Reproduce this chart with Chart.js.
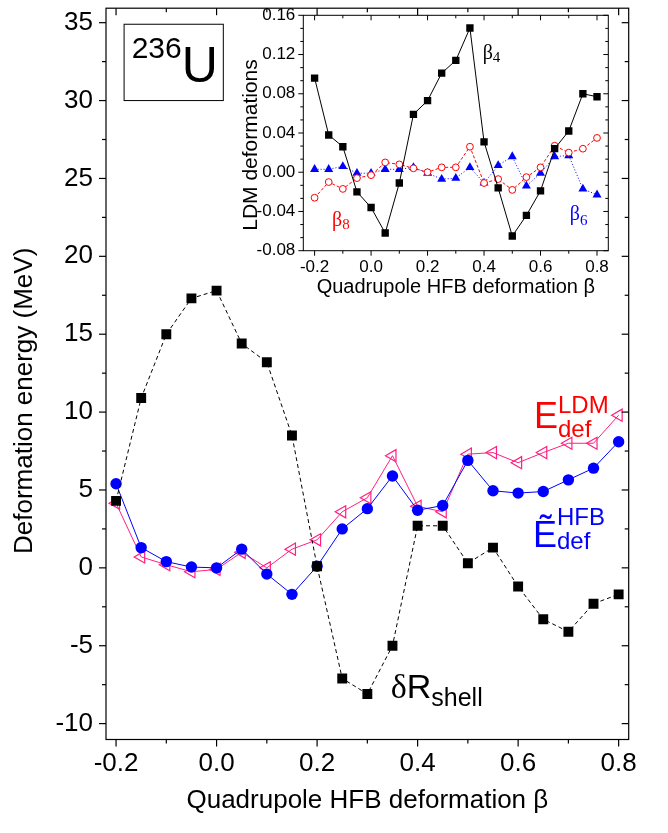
<!DOCTYPE html>
<html>
<head>
<meta charset="utf-8">
<script src="https://cdn.jsdelivr.net/npm/chart.js@4.4.0/dist/chart.umd.min.js"></script>
<style>
  html, body { margin: 0; padding: 0; background: #fff; }
  #wrap { position: relative; width: 668px; height: 833px; }
  #main { position: absolute; left: 0; top: 0; }
  #inset { position: absolute; left: 230px; top: 0; }
</style>
</head>
<body>
<div id="wrap">
  <canvas id="main" width="668" height="833"></canvas>
  <canvas id="inset" width="390" height="305"></canvas>
</div>
<script>
// quadrupole HFB deformation (x for every series)
var beta = [-0.2, -0.15, -0.1, -0.05, 0, 0.05, 0.1, 0.15, 0.2, 0.25, 0.3,
            0.35, 0.4, 0.45, 0.5, 0.55, 0.6, 0.65, 0.7, 0.75, 0.8];

// main panel, MeV
var dRshell = [4.3, 10.9, 15.0, 17.3, 17.8, 14.4, 13.2, 8.5, 0.1, -7.1, -8.1,
               -5.0, 2.7, 2.7, 0.3, 1.3, -1.2, -3.3, -4.1, -2.3, -1.7];
var eHFB = [5.4, 1.3, 0.4, 0.05, 0.0, 1.2, -0.4, -1.7, 0.1, 2.5, 3.8,
            5.9, 3.7, 4.0, 6.9, 4.95, 4.8, 4.9, 5.65, 6.4, 8.1];
var eLDM = [4.15, 0.7, 0.2, -0.25, -0.1, 1.0, 0.0, 1.2, 1.8, 3.6, 4.5,
            7.2, 3.95, 3.6, 7.3, 7.4, 6.75, 7.4, 8.0, 8.0, 9.8];

// inset, LDM deformations
var beta4 = [0.096, 0.038, 0.026, -0.020, -0.036, -0.062, -0.011, 0.059, 0.073, 0.101, 0.114,
             0.147, 0.031, -0.016, -0.065, -0.044, -0.019, 0.024, 0.042, 0.080, 0.077];
var beta6 = [0.003, 0.003, 0.006, -0.001, -0.001, 0.003, 0.003, 0.005, -0.001, -0.007, -0.006,
             0.005, -0.011, 0.007, 0.016, -0.014, -0.001, 0.016, 0.017, -0.017, -0.023];
var beta8 = [-0.026, -0.010, -0.017, -0.006, -0.003, 0.010, 0.008, 0.004, 0.000, 0.005, 0.005,
             0.026, -0.011, -0.007, -0.018, -0.005, 0.005, 0.027, 0.020, 0.024, 0.035];

// tick labels
var mainXTicks = [-0.2, 0, 0.2, 0.4, 0.6, 0.8];
var mainYTicks = [-10, -5, 0, 5, 10, 15, 20, 25, 30, 35];
var insetXTicks = [-0.2, 0, 0.2, 0.4, 0.6, 0.8];
var insetYTicks = [-0.08, -0.04, 0, 0.04, 0.08, 0.12, 0.16];

var SANS = '"Liberation Sans", Arial, sans-serif';
var SERIF = '"Liberation Serif", "Times New Roman", serif';

function pts(ys) {
  return beta.map(function (b, i) { return { x: b, y: ys[i] }; });
}

// minor ticks: n between each pair of majors, plus one interval past the ends
function minors(major, n, lo, hi) {
  var out = [], gap = major[1] - major[0], step = gap / (n + 1);
  for (var v = major[0] - gap; v <= major[major.length - 1] + gap + 1e-9; v += step) {
    var isMajor = major.some(function (m) { return Math.abs(m - v) < step / 10; });
    if (!isMajor && v >= lo && v <= hi) out.push(v);
  }
  return out;
}

// box frame + major/minor ticks (outward on bottom/left, inward on top/right)
// and the rotated y title, which sits a little below the axis middle
var framePlugin = {
  id: 'frame',
  afterDraw: function (chart, args, o) {
    var ctx = chart.ctx, a = chart.chartArea, xs = chart.scales.x, ys = chart.scales.y;
    ctx.save();
    ctx.strokeStyle = '#000';
    ctx.lineWidth = o.lineWidth;
    ctx.strokeRect(a.left, a.top, a.right - a.left, a.bottom - a.top);
    function seg(x1, y1, x2, y2) { ctx.beginPath(); ctx.moveTo(x1, y1); ctx.lineTo(x2, y2); ctx.stroke(); }
    function xt(v, len) {
      var p = xs.getPixelForValue(v);
      seg(p, a.bottom, p, a.bottom + len);
      seg(p, a.top, p, a.top + len);
    }
    function yt(v, len) {
      var p = ys.getPixelForValue(v);
      seg(a.left, p, a.left - len, p);
      seg(a.right, p, a.right - len, p);
    }
    o.xMajor.forEach(function (v) { xt(v, o.majorLen); });
    minors(o.xMajor, o.xMinorN, xs.min, xs.max).forEach(function (v) { xt(v, o.minorLen); });
    o.yMajor.forEach(function (v) { yt(v, o.majorLen); });
    minors(o.yMajor, o.yMinorN, ys.min, ys.max).forEach(function (v) { yt(v, o.minorLen); });

    ctx.translate(o.yTitleX, (a.top + a.bottom) / 2 + o.yTitleShift);
    ctx.rotate(-Math.PI / 2);
    ctx.font = o.yTitleSize + 'px ' + SANS;
    ctx.fillStyle = '#000';
    ctx.textAlign = 'center';
    ctx.textBaseline = 'middle';
    ctx.fillText(o.yTitle, 0, 0);
    ctx.restore();
  }
};

// write a run of text pieces from a data-space anchor (left, baseline)
// piece: [text, font, color, dy, noAdvance]
function runs(chart, xv, yv, pieces) {
  var ctx = chart.ctx;
  var x = chart.scales.x.getPixelForValue(xv), y = chart.scales.y.getPixelForValue(yv);
  ctx.save();
  ctx.textBaseline = 'alphabetic';
  ctx.textAlign = 'left';
  pieces.forEach(function (p) {
    ctx.font = p[1];
    ctx.fillStyle = p[2];
    ctx.fillText(p[0], x, y + (p[3] || 0));
    if (!p[4]) x += ctx.measureText(p[0]).width;
  });
  ctx.restore();
}

var mainNotes = {
  id: 'mainNotes',
  afterDraw: function (chart) {
    var ctx = chart.ctx, xs = chart.scales.x, ys = chart.scales.y;
    // nucleus box
    var x0 = xs.getPixelForValue(-0.184), x1 = xs.getPixelForValue(0.0134);
    var y0 = ys.getPixelForValue(34.9), y1 = ys.getPixelForValue(30.0);
    ctx.save();
    ctx.strokeStyle = '#000';
    ctx.lineWidth = 1;
    ctx.strokeRect(x0, y0, x1 - x0, y1 - y0);
    ctx.restore();
    runs(chart, -0.169, 31.18, [
      ['236', '30px ' + SANS, '#000', -24.5],
      ['U', '50px ' + SANS, '#000', 0]
    ]);
    runs(chart, 0.3465, -8.33, [
      ['\u03b4', '34px ' + SERIF, '#000', 0],
      ['R', '34px ' + SANS, '#000', 0],
      ['shell', '25px ' + SANS, '#000', 8]
    ]);
    runs(chart, 0.6315, 8.98, [
      ['E', '36px ' + SANS, '#ff0000', 0],
      ['LDM', '24px ' + SANS, '#ff0000', -15, true],
      ['def', '24px ' + SANS, '#ff0000', 9]
    ]);
    runs(chart, 0.6295, 1.34, [
      ['\u1ebc', '36px ' + SANS, '#0000ff', 0],
      ['HFB', '24px ' + SANS, '#0000ff', -22, true],
      ['def', '24px ' + SANS, '#0000ff', 2]
    ]);
  }
};

var insetNotes = {
  id: 'insetNotes',
  afterDraw: function (chart) {
    runs(chart, 0.395, 0.1155, [
      ['\u03b2', '20px ' + SERIF, '#000', 0],
      ['4', '15px ' + SERIF, '#000', 3]
    ]);
    runs(chart, -0.1385, -0.0548, [
      ['\u03b2', '20px ' + SERIF, '#ff0000', 0],
      ['8', '15px ' + SERIF, '#ff0000', 3]
    ]);
    runs(chart, 0.7035, -0.0487, [
      ['\u03b2', '20px ' + SERIF, '#0000ff', 0],
      ['6', '15px ' + SERIF, '#0000ff', 5]
    ]);
  }
};

function fixedTicks(list) {
  return function (s) { s.ticks = list.map(function (v) { return { value: v }; }); };
}

new Chart(document.getElementById('main'), {
  type: 'line',
  data: {
    datasets: [
      {
        label: 'dR shell',
        data: pts(dRshell),
        borderColor: '#000',
        borderWidth: 1,
        borderDash: [4, 3],
        pointStyle: 'rect',
        pointRadius: 7,
        pointBackgroundColor: '#000',
        pointBorderColor: '#000',
        pointBorderWidth: 0
      },
      {
        label: 'E HFB',
        data: pts(eHFB),
        borderColor: '#0000ff',
        borderWidth: 1,
        pointStyle: 'circle',
        pointRadius: 5.7,
        pointBackgroundColor: '#0000ff',
        pointBorderColor: '#0000ff',
        pointBorderWidth: 0
      },
      {
        label: 'E LDM',
        data: pts(eLDM),
        borderColor: '#ff2080',
        borderWidth: 1,
        pointStyle: 'triangle',
        pointRotation: -90,
        pointRadius: 7,
        pointBackgroundColor: 'rgba(255,255,255,0)',
        pointBorderColor: '#ff2080',
        pointBorderWidth: 1.2
      }
    ]
  },
  options: {
    responsive: false,
    animation: false,
    layout: { padding: { top: 1, right: 39.3, bottom: 0, left: 0 } },
    plugins: {
      legend: { display: false },
      tooltip: { enabled: false },
      frame: { lineWidth: 1.2, majorLen: 7, minorLen: 4,
               xMajor: mainXTicks, xMinorN: 1, yMajor: mainYTicks, yMinorN: 1,
               yTitle: 'Deformation energy (MeV)', yTitleSize: 26, yTitleX: 25, yTitleShift: 27 }
    },
    scales: {
      x: {
        type: 'linear',
        min: -0.22,
        max: 0.82,
        afterBuildTicks: fixedTicks(mainXTicks),
        afterFit: function (s) { s.height = 93.5; s.paddingLeft = 0; s.paddingRight = 0; },
        grid: { display: false, drawTicks: false },
        border: { display: false },
        ticks: {
          autoSkip: false, maxRotation: 0, padding: 9, color: '#000',
          font: { family: SANS, size: 26 },
          callback: function (v) { return v.toFixed(1); }
        },
        title: {
          display: true, text: 'Quadrupole HFB deformation \u03b2', color: '#000',
          font: { family: SANS, size: 26 }, padding: { top: 0, bottom: 17 }
        }
      },
      y: {
        type: 'linear',
        min: -11.02,
        max: 35.93,
        afterBuildTicks: fixedTicks(mainYTicks),
        afterFit: function (s) { s.width = 106; s.paddingTop = 0; s.paddingBottom = 0; },
        grid: { display: false, drawTicks: false },
        border: { display: false },
        ticks: {
          autoSkip: false, padding: 13, color: '#000',
          font: { family: SANS, size: 26 },
          callback: function (v) { return String(v); }
        }
      }
    }
  },
  plugins: [framePlugin, mainNotes]
});

new Chart(document.getElementById('inset'), {
  type: 'line',
  data: {
    datasets: [
      {
        label: 'beta4',
        data: pts(beta4),
        borderColor: '#000',
        borderWidth: 1,
        pointStyle: 'rect',
        pointRadius: 5.2,
        pointBackgroundColor: '#000',
        pointBorderColor: '#000',
        pointBorderWidth: 0
      },
      {
        label: 'beta8',
        data: pts(beta8),
        borderColor: '#ff0000',
        borderWidth: 1,
        borderDash: [3, 2],
        pointStyle: 'circle',
        pointRadius: 3.4,
        pointBackgroundColor: '#ffffff',
        pointBorderColor: '#ff0000',
        pointBorderWidth: 1
      },
      {
        label: 'beta6',
        data: pts(beta6),
        borderColor: '#0000ff',
        borderWidth: 1,
        borderDash: [1, 2],
        pointStyle: 'triangle',
        pointRadius: 5.2,
        pointBackgroundColor: '#0000ff',
        pointBorderColor: '#0000ff',
        pointBorderWidth: 0
      }
    ]
  },
  options: {
    responsive: false,
    animation: false,
    layout: { padding: { top: 15.3, right: 11.7, bottom: 0, left: 0 } },
    plugins: {
      legend: { display: false },
      tooltip: { enabled: false },
      frame: { lineWidth: 1, majorLen: 5, minorLen: 3,
               xMajor: insetXTicks, xMinorN: 1, yMajor: insetYTicks, yMinorN: 2,
               yTitle: 'LDM deformations', yTitleSize: 21, yTitleX: 21, yTitleShift: 12 }
    },
    scales: {
      x: {
        type: 'linear',
        min: -0.24,
        max: 0.84,
        afterBuildTicks: fixedTicks(insetXTicks),
        afterFit: function (s) { s.height = 54.3; s.paddingLeft = 0; s.paddingRight = 0; },
        grid: { display: false, drawTicks: false },
        border: { display: false },
        ticks: {
          autoSkip: false, maxRotation: 0, padding: 6, color: '#000',
          font: { family: SANS, size: 17 },
          callback: function (v) { return v.toFixed(1); }
        },
        title: {
          display: true, text: 'Quadrupole HFB deformation \u03b2', color: '#000',
          font: { family: SANS, size: 20 }, padding: { top: 0, bottom: 6 }
        }
      },
      y: {
        type: 'linear',
        min: -0.08,
        max: 0.16,
        afterBuildTicks: fixedTicks(insetYTicks),
        afterFit: function (s) { s.width = 73.3; s.paddingTop = 0; s.paddingBottom = 0; },
        grid: { display: false, drawTicks: false },
        border: { display: false },
        ticks: {
          autoSkip: false, padding: 8, color: '#000',
          font: { family: SANS, size: 17 },
          callback: function (v) { return v.toFixed(2); }
        }
      }
    }
  },
  plugins: [framePlugin, insetNotes]
});
</script>
</body>
</html>
